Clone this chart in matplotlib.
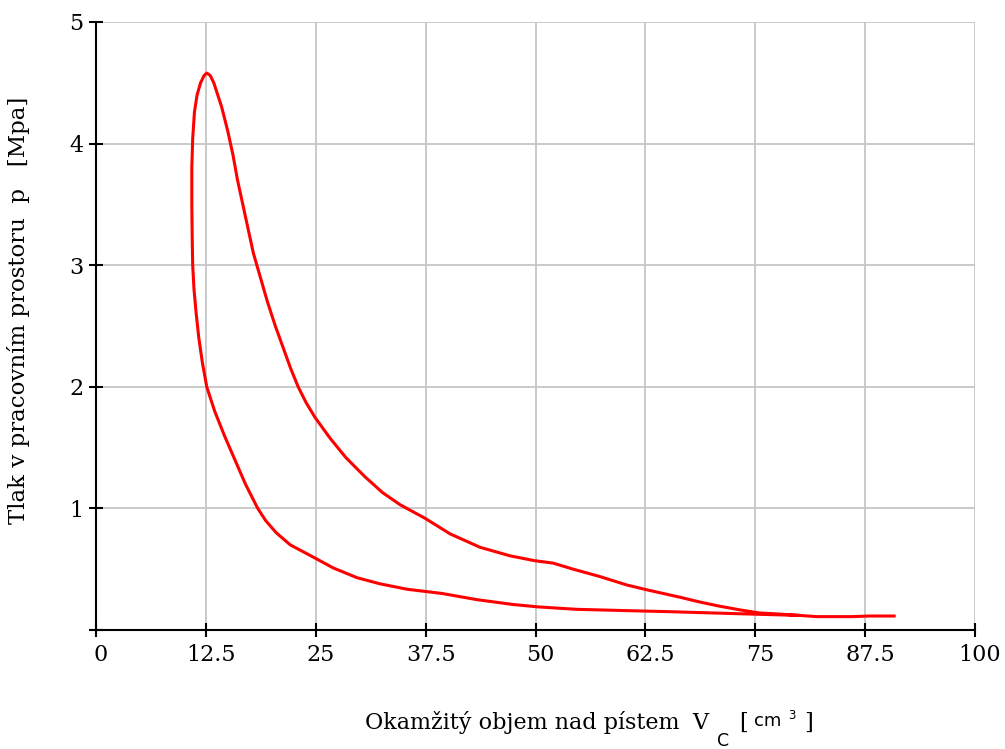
import matplotlib
matplotlib.use("agg")
import matplotlib.pyplot as plt
import matplotlib.transforms as mtransforms
import numpy as np

# indicator diagram of one engine cycle: volume above piston [cm3] vs pressure [MPa]
# compression stroke, from bottom dead centre up to the pressure peak
vol_compression = [90.8, 88.0, 86.0, 82.0, 80.0, 75.0, 70.2, 65.6, 60.0, 54.7,
                   50.3, 47.4, 43.3, 39.4, 35.4, 32.3, 29.7, 27.0, 24.7, 22.1,
                   20.5, 19.3, 18.4, 17.0, 15.8, 14.6, 13.5, 12.6, 12.1,
                   11.7, 11.4, 11.15, 11.0, 10.95, 10.9, 10.9, 11.0, 11.2, 11.5,
                   11.9, 12.3, 12.6]
p_compression = [0.115, 0.115, 0.11, 0.11, 0.12, 0.13, 0.14, 0.15, 0.16, 0.17,
                 0.19, 0.21, 0.25, 0.30, 0.335, 0.38, 0.43, 0.51, 0.60, 0.70,
                 0.80, 0.90, 1.00, 1.20, 1.40, 1.60, 1.80, 2.00, 2.20,
                 2.40, 2.60, 2.80, 3.00, 3.20, 3.50, 3.80, 4.04, 4.26, 4.40,
                 4.50, 4.56, 4.58]

# expansion stroke, from the peak back down to bottom dead centre
vol_expansion = [13.0, 13.4, 14.3, 15.0, 15.6, 16.1, 16.7, 17.3, 17.9, 18.7,
                 19.5, 20.4, 21.4, 22.15, 23.0, 23.9, 24.9, 26.6, 28.4, 30.6,
                 32.6, 34.6, 37.4, 40.3, 43.7, 47.1, 49.9, 52.0, 54.3, 57.3,
                 60.4, 62.7, 66.4, 68.7, 71.0, 73.3, 75.5, 78.0, 80.0]
p_expansion = [4.56, 4.50, 4.30, 4.10, 3.90, 3.70, 3.50, 3.30, 3.10, 2.90,
               2.70, 2.50, 2.30, 2.15, 2.00, 1.87, 1.75, 1.58, 1.42, 1.26,
               1.13, 1.03, 0.92, 0.79, 0.68, 0.61, 0.57, 0.55, 0.50, 0.44,
               0.37, 0.33, 0.27, 0.23, 0.195, 0.165, 0.14, 0.13, 0.12]

x_ticks = [0, 12.5, 25, 37.5, 50, 62.5, 75, 87.5, 100]
x_tick_labels = ["0", "12.5", "25", "37.5", "50", "62.5", "75", "87.5", "100"]
y_ticks = [0, 1, 2, 3, 4, 5]
y_tick_labels = ["", "1", "2", "3", "4", "5"]

W, H = 1005, 749
SERIF = "DejaVu Serif"
SANS = "DejaVu Sans"
FS = 16

fig = plt.figure(figsize=(W / 100, H / 100), dpi=100)
ax = fig.add_axes([96 / W, 119 / H, 879 / W, 608 / H])

vol = np.concatenate([vol_compression, vol_expansion])
p = np.concatenate([p_compression, p_expansion])
ax.plot(vol, p, color="#ff0000", lw=2.2, solid_joinstyle="round", zorder=3)

ax.set_xlim(0, 100)
ax.set_ylim(0, 5)
ax.set_xticks(x_ticks)
ax.set_xticklabels(x_tick_labels, family=SERIF, fontsize=FS)
ax.set_yticks(y_ticks)
ax.set_yticklabels(y_tick_labels, family=SERIF, fontsize=FS)

ax.grid(True, color="#c6c6c6", lw=1.3)
ax.set_axisbelow(True)
for side in ("top", "right"):
    ax.spines[side].set_visible(False)
for side in ("left", "bottom"):
    ax.spines[side].set_linewidth(1.5)
    ax.spines[side].set_zorder(4)
ax.tick_params(direction="inout", length=10, width=1.5, color="black")
ax.tick_params(axis="x", pad=5)
ax.tick_params(axis="y", pad=4)

# shift the x labels a few pixels right of their ticks
shift = mtransforms.ScaledTranslation(0.05, 0, fig.dpi_scale_trans)
for lab in ax.get_xticklabels():
    lab.set_transform(lab.get_transform() + shift)


def px_text(x, y, s, **kw):
    # place text by pixel position measured from the top-left corner
    return fig.text(x / W, 1 - y / H, s, **kw)


# x axis title, built piece by piece (V with subscript C, units cm^3)
px_text(365, 729, "Okamžitý objem nad pístem", family=SERIF, fontsize=FS, va="baseline")
px_text(692, 729, "V", family=SERIF, fontsize=FS, va="baseline")
px_text(717, 746, "C", family=SANS, fontsize=12.5, va="baseline")
px_text(739, 729, "[", family=SERIF, fontsize=FS, va="baseline")
px_text(754, 726, "cm", family=SANS, fontsize=13, va="baseline")
px_text(788, 719, "3", family=SANS, fontsize=8.5, va="baseline")
px_text(804, 729, "]", family=SERIF, fontsize=FS, va="baseline")

# y axis title
px_text(19, 310, "Tlak v pracovním prostoru  p   [Mpa]", family=SERIF, fontsize=16.5,
        rotation=90, ha="center", va="center")

fig.savefig("out.png", dpi=100)
